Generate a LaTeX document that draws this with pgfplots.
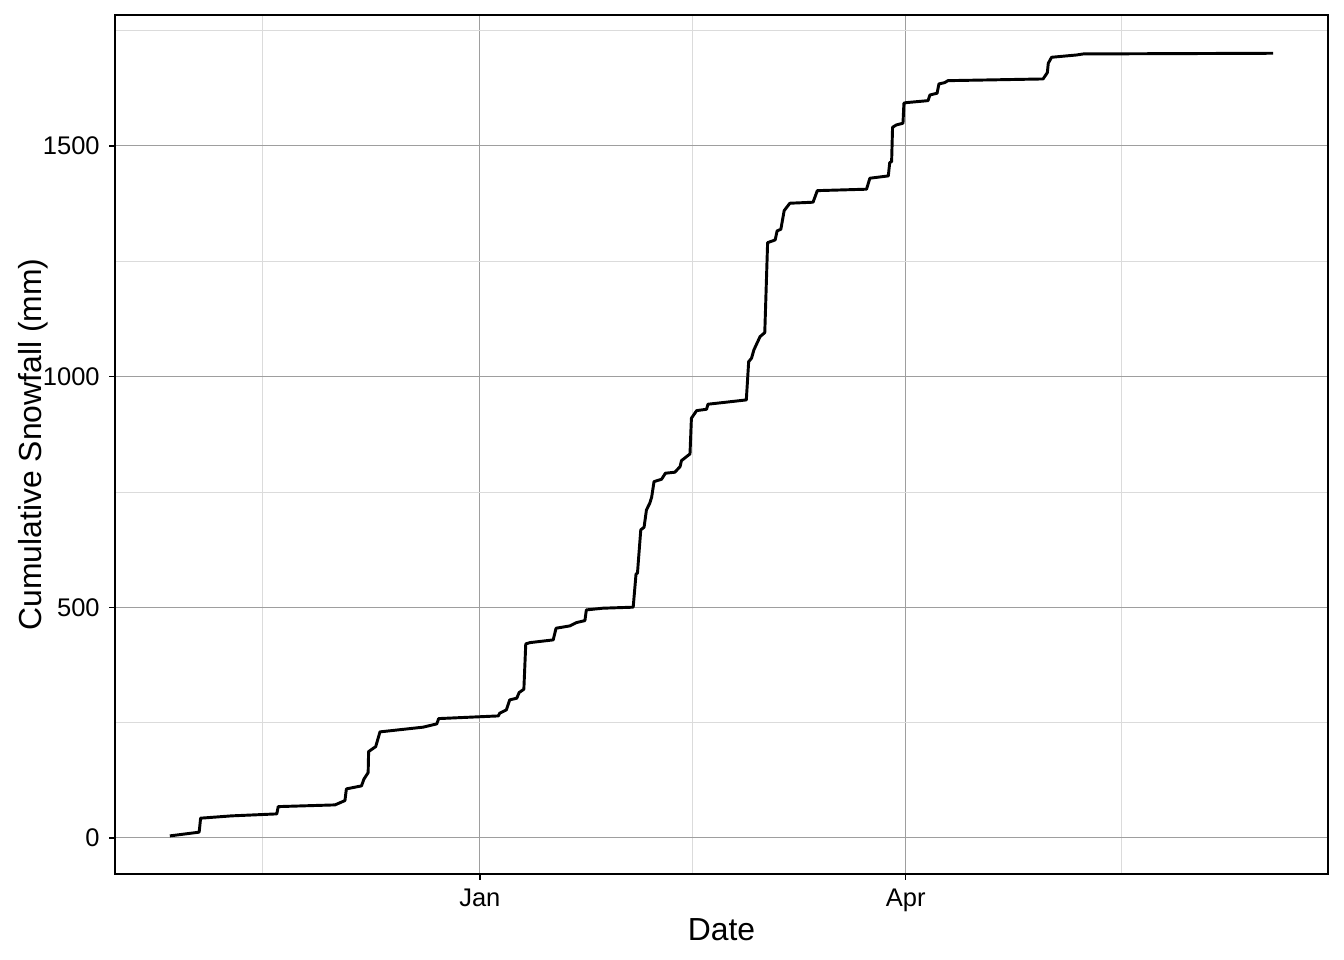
\documentclass[border=0pt]{standalone}
\usepackage{fontspec}
\setmainfont{Liberation Sans}
\usepackage{pgfplots}
\pgfplotsset{compat=1.18}

% day 0 = 1 Jan, day 90 = 1 Apr
\pgfplotstableread{
day   snow
-65.5 4.3
-59.3 12.4
-59.0 42.7
-52.5 47.7
-42.9 52.0
-42.6 67.8
-30.6 71.5
-28.5 80.9
-28.2 106.2
-25.0 112.7
-24.5 127.2
-23.6 141.5
-23.5 187.1
-22.0 197.9
-21.1 229.8
-12.0 240.0
-9.1 247.1
-8.7 258.6
3.9 264.4
4.2 270.3
5.6 277.5
6.3 299.1
7.8 302.8
8.3 315.0
9.3 322.3
9.7 420.5
10.6 423.3
15.5 429.2
16.1 454.5
19.0 459.5
20.4 466.7
22.2 471.0
22.5 494.2
26.0 497.9
32.4 500.1
33.0 572.2
33.3 573.8
34.0 667.6
34.7 673.5
35.2 711.0
35.9 725.5
36.3 738.5
36.8 772.3
38.4 777.5
39.2 790.5
41.2 792.7
42.3 804.8
42.6 817.8
44.4 832.4
44.7 909.7
45.8 926.2
47.9 929.2
48.2 940.1
56.3 949.4
56.8 1032.4
57.4 1039.8
57.9 1057.8
59.2 1086.6
60.2 1095.3
60.8 1290.4
62.4 1296.2
62.8 1315.7
63.6 1319.4
64.3 1359.8
65.5 1375.8
70.4 1378.0
71.3 1403.1
81.7 1406.2
82.4 1430.0
86.3 1435.0
86.6 1463.8
87.0 1466.0
87.2 1540.5
88.0 1545.5
89.4 1549.2
89.6 1592.6
90.1 1593.9
94.7 1598.2
95.1 1610.5
96.6 1614.2
97.0 1634.4
98.2 1637.2
98.9 1641.5
119.0 1645.2
119.9 1658.9
120.1 1679.2
120.8 1692.2
126.1 1697.2
127.5 1699.4
167.6 1700.9
}\snowdata

\begin{document}
\begin{tikzpicture}
\path[use as bounding box] (-43.1bp,-32.25bp) rectangle (460.9bp,327.7bp);
\begin{axis}[
    scale only axis,
    width=454.9bp,
    height=322.1bp,
    xmin=-77.1, xmax=179.2,
    ymin=-78, ymax=1784,
    xtick={0,90},
    xticklabels={Jan,Apr},
    ytick={0,500,1000,1500},
    minor xtick={-46,45,135.5},
    minor ytick={250,750,1250,1750},
    grid=both,
    major grid style={draw=black!38, line width=0.35pt},
    minor grid style={draw=black!14, line width=0.3pt},
    tick align=outside,
    major tick length=2.2bp,
    minor tick length=0pt,
    tick style={black, line width=0.5pt},
    axis line style={black, line width=0.5pt},
    xtick pos=bottom, ytick pos=left,
    /pgf/number format/assume math mode=true,
    scaled y ticks=false,
    yticklabel style={font=\fontsize{9.6}{11}\selectfont, /pgf/number format/1000 sep={}},
    xticklabel style={font=\fontsize{9.6}{11}\selectfont},
    xlabel={Date},
    ylabel={Cumulative Snowfall (mm)},
    label style={font=\fontsize{12}{14}\selectfont},
    xlabel style={at={(axis description cs:0.5,-0.065)}, anchor=center},
    ylabel style={at={(axis description cs:-0.0675,0.5)}, anchor=center, rotate=0},
]
\addplot[black, line width=1.1bp, line join=round] table[x=day, y=snow] {\snowdata};
\end{axis}
\end{tikzpicture}
\end{document}
